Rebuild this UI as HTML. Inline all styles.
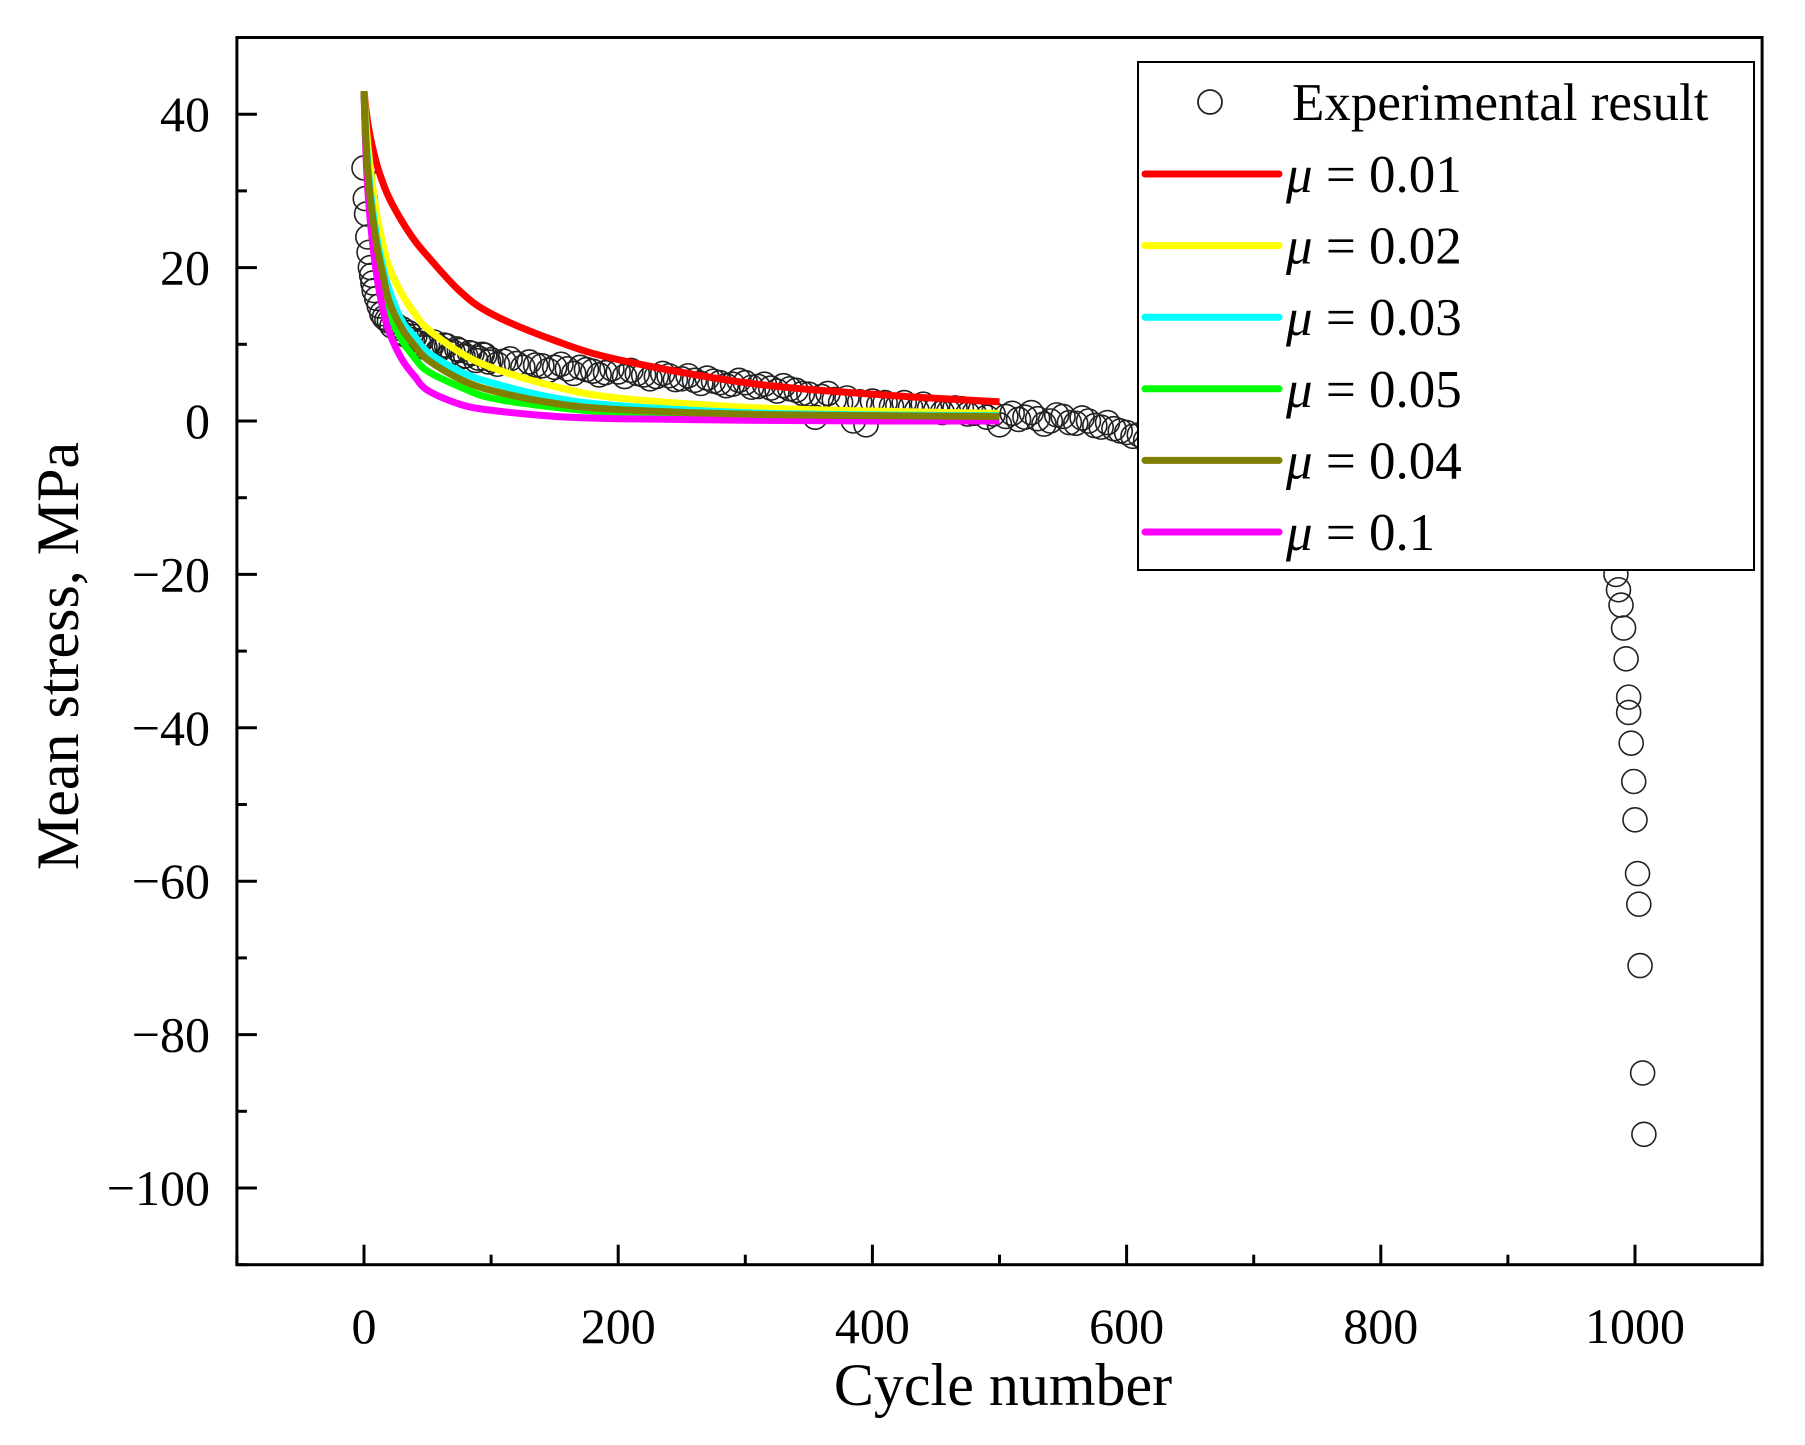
<!DOCTYPE html>
<html><head><meta charset="utf-8"><style>
html,body{margin:0;padding:0;background:#fff;}
svg{display:block;font-family:"Liberation Serif","Times New Roman",serif;}
</style></head><body>
<svg id="chart" width="1805" height="1445" viewBox="0 0 1805 1445" xmlns="http://www.w3.org/2000/svg">
<rect width="1805" height="1445" fill="#fff"/>
<g id="data-layer"></g>
<g id="axes"></g>
<g id="legend"></g>
</svg>
<script>
const xTicks=[0,200,400,600,800,1000];
const yTicks=[40,20,0,-20,-40,-60,-80,-100];
const fitX=[0,2,5,10,15,20,30,40,50,75,100,150,200,300,400,500];
const red=[43,40,37,33.5,31,29,26,23.5,21.5,17,14,10.5,8,5,3.5,2.5];
const yellow=[43,38,33,27,23,20,16.5,14,12,9,7,4.5,3,1.8,1.3,1];
const cyan=[43,36,30,24,20,17,13,11,9,6.5,5,3,2,1.1,0.8,0.7];
const green=[43,34,28,21,17,14,10.5,8.2,6.5,4.5,3,1.8,1.1,0.6,0.5,0.4];
const olive=[43,35,29,23,19,15.5,12,9.8,8,5.5,4,2.3,1.5,0.9,0.7,0.6];
const magenta=[43,33,26,19,14.5,11.5,8,5.8,4,2.2,1.4,0.6,0.3,0.1,0,0];
const seriesLabels=["μ = 0.01","μ = 0.02","μ = 0.03","μ = 0.05","μ = 0.04","μ = 0.1"];
const expX=[0,1,2,3,4,5,6,7,8,10,
12,14,16,18,20,22,25,28,30,33,
35,38,40,43,45,48,50,53,55,58,
60,63,65,68,70,73,75,78,80,83,
85,88,90,93,95,98,100,105,110,115,
120,125,130,135,140,145,150,155,160,165,
170,175,180,185,190,195,200,205,210,215,
220,225,230,235,240,245,250,255,260,265,
270,275,280,285,290,295,300,305,310,315,
320,325,330,335,340,345,350,355,360,365,
370,375,380,385,390,395,400,405,410,415,
420,425,430,435,440,445,450,455,460,465,
470,475,480,485,490,495,500,505,510,515,
520,525,530,535,540,545,550,555,560,565,
570,575,580,585,590,595,600,605,610,615,
630,660,690,720,750,780,810,840,870,900,
930,950,965,975,985,987,989,991,993,995,
995,997,999,1000,1002,1003,1004,1006,1007];
const expY=[33,29,27,24,22,20,19,18,17,16,
15,14,13.5,13.2,13,12.4,12.5,11.6,12,11.2,
11.5,10.6,11,10.2,10.5,9.6,10,9.7,10.3,9.1,
9.5,9.9,9.8,8.8,9,9.4,9.2,8.4,8.5,8.9,
8.8,7.9,8.2,8.7,8.6,7.7,8,7.4,7.8,8.1,
7.5,7,7.7,7.3,7.2,6.6,7,7.4,6.8,6.2,
7,6.7,6.5,6,6.3,6.8,6.4,5.8,6.6,6.2,
6,5.5,5.8,6.2,5.9,5.4,5.5,5.9,5.3,4.9,
5.6,5.2,5,4.6,4.8,5.3,5,4.4,4.5,4.8,
4.3,3.9,4.6,4.2,4,3.6,3.5,0.5,3.2,3.6,
2.8,2.4,3,0,2.5,-0.5,2.6,2.1,2.4,1.9,
2,2.4,1.8,1.4,2.2,1.7,1.5,1.1,1.2,1.7,
1.6,0.9,1,1.4,0.5,0.9,-0.5,0.6,1,0.2,
0.5,1.1,0.3,-0.4,0,0.8,0.6,-0.2,-0.3,0.4,
0,-0.6,-0.8,-0.2,-1,-1.3,-1.5,-2,-1.8,-2.5,
-3,-4,-5,-6,-7,-8,-9,-10,-11,-11.5,
-12,-13,-14,-15,-20,-22,-24,-27,-31,-36,
-38,-42,-47,-52,-59,-63,-71,-85,-93];

const NS="http://www.w3.org/2000/svg";
const X=v=>364+v*1.271;
const Y=v=>421-v*7.67;
function mk(tag,attrs,parent){const e=document.createElementNS(NS,tag);for(const k in attrs)e.setAttribute(k,attrs[k]);parent.appendChild(e);return e;}
const dataLayer=document.getElementById('data-layer');
const axes=document.getElementById('axes');
const legend=document.getElementById('legend');

const scat=mk('g',{},dataLayer);


const nPts=Math.min(expX.length,expY.length);
for(let i=0;i<nPts;i++){
  const c=mk('circle',{cx:X(expX[i]),cy:Y(expY[i]),r:12,fill:'none',stroke:'#222','stroke-width':1.6},scat);
  
  
}

function pathFor(xs,ys){
  const p=xs.map((x,i)=>[X(x),Y(ys[i])]);
  let d=`M${p[0][0]},${p[0][1]}`;
  for(let i=0;i<p.length-1;i++){
    const p0=p[Math.max(0,i-1)],p1=p[i],p2=p[i+1],p3=p[Math.min(p.length-1,i+2)];
    const c1=[p1[0]+(p2[0]-p0[0])/6,p1[1]+(p2[1]-p0[1])/6];
    const c2=[p2[0]-(p3[0]-p1[0])/6,p2[1]-(p3[1]-p1[1])/6];
    d+=` C${c1[0]},${c1[1]} ${c2[0]},${c2[1]} ${p2[0]},${p2[1]}`;
  }
  return d;
}
const series=[red,yellow,cyan,green,olive,magenta];
const colors=['#ff0000','#ffff00','#00ffff','#00ff00','#808000','#ff00ff'];
const names=['curve-mu-0-01','curve-mu-0-02','curve-mu-0-03','curve-mu-0-05','curve-mu-0-04','curve-mu-0-1'];
const drawOrder=[0,1,2,3,5,4];
drawOrder.forEach(i=>{
  const p=mk('path',{d:pathFor(fitX,series[i]),fill:'none',stroke:colors[i],'stroke-width':7,'stroke-linejoin':'round'},dataLayer);
  
  
});

const frame=mk('rect',{x:X(-100),y:Y(50),width:X(1100)-X(-100),height:Y(-110)-Y(50),fill:'none',stroke:'#000','stroke-width':3},axes);


for(let v=-100;v<=1100;v+=100){
  const major=v%200===0;
  const t=mk('line',{x1:X(v),x2:X(v),y1:Y(-110),y2:Y(-110)-(major?20:10),stroke:'#000','stroke-width':3},axes);
  
  
}
for(let v=-110;v<=50;v+=10){
  const major=v%20===0;
  const t=mk('line',{x1:X(-100),x2:X(-100)+(major?20:10),y1:Y(v),y2:Y(v),stroke:'#000','stroke-width':3},axes);
  
  
}
xTicks.forEach(v=>{
  const t=mk('text',{x:X(v),y:1343,'font-size':50,'text-anchor':'middle',fill:'#000'},axes);
  t.textContent=String(v);
  
  
});
yTicks.forEach(v=>{
  const t=mk('text',{x:210,y:Y(v)+17,'font-size':50,'text-anchor':'end',fill:'#000'},axes);
  t.textContent=v<0?'\u2212'+Math.abs(v):String(v);
  
  
});
const xt=mk('text',{x:1003,y:1405,'font-size':60,'text-anchor':'middle',fill:'#000'},axes);
xt.textContent='Cycle number';


const yt=mk('text',{x:0,y:0,'font-size':60,'text-anchor':'middle',fill:'#000',transform:'translate(78,656) rotate(-90)'},axes);
yt.textContent='Mean stress, MPa';



const box=mk('rect',{x:1138,y:62,width:616,height:508,fill:'#fff',stroke:'#000','stroke-width':2},legend);


const lc=mk('circle',{cx:1210,cy:102,r:12,fill:'none',stroke:'#222','stroke-width':1.8},legend);


const lt=mk('text',{x:1292,y:120,'font-size':53,fill:'#000'},legend);
lt.textContent='Experimental result';


seriesLabels.forEach((lab,i)=>{
  const cy=174+i*71.6;
  const l=mk('line',{x1:1145,x2:1279,y1:cy,y2:cy,stroke:colors[i],'stroke-width':7,'stroke-linecap':'round'},legend);
  
  
  const t=mk('text',{x:1286,y:cy+18,'font-size':53,fill:'#000'},legend);
  
  
  const mu=mk('tspan',{'font-style':'italic'},t);
  mu.textContent='μ';
  const rest=mk('tspan',{},t);
  rest.textContent=lab.slice(1);
});
</script>
</body></html>
